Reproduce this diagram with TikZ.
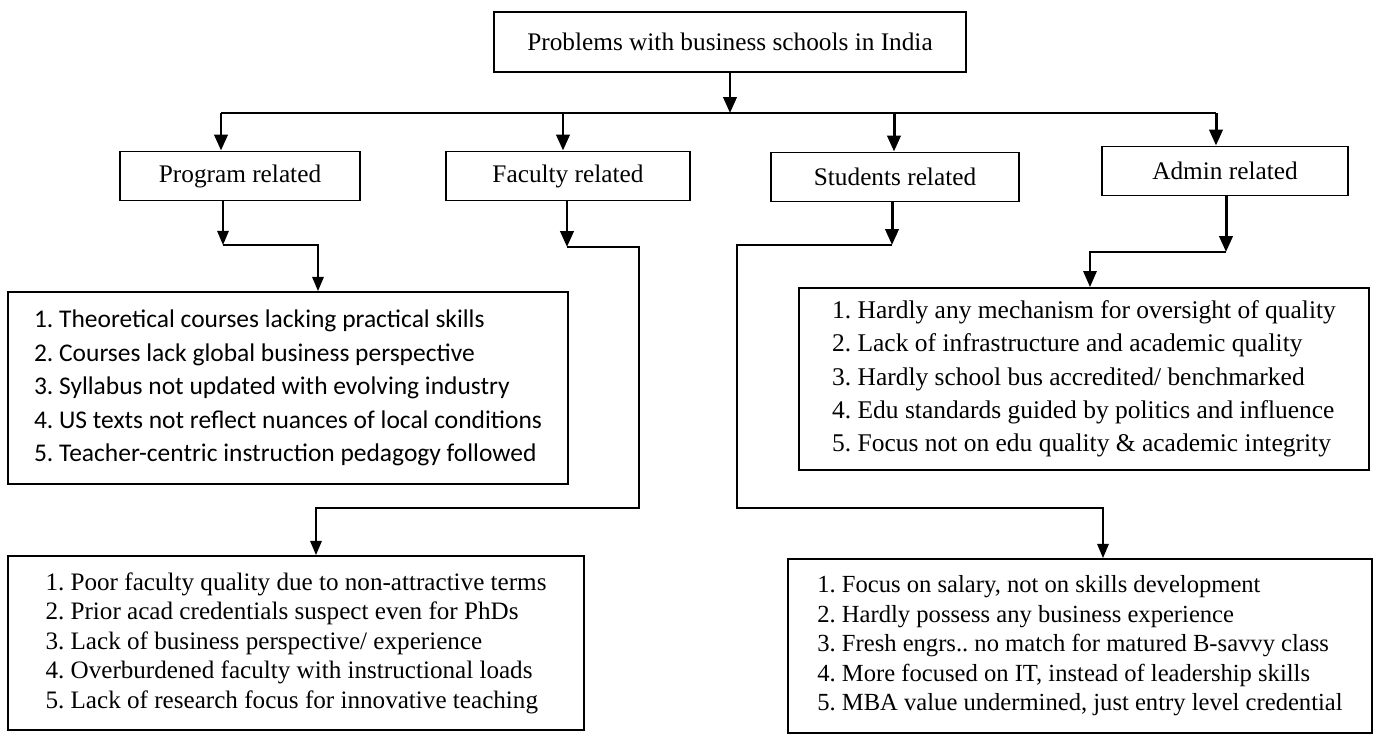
\documentclass[tikz,border=0pt]{standalone}
\usepackage{fontspec}
\setmainfont{Liberation Serif}
\newfontfamily\calibfont{Carlito}
\usepackage{tikz}
\usetikzlibrary{arrows.meta, positioning, calc}
\frenchspacing

\begin{document}
\begin{tikzpicture}[
    x=0.02cm, y=-0.02cm,
    topbox/.style={rectangle, draw, line width=1.1pt, minimum height=1.2cm, font=\fontsize{14.4}{17}\selectfont},
    catbox/.style={rectangle, draw, line width=1.1pt, minimum height=0.98cm, font=\fontsize{14.4}{17}\selectfont},
    listbox/.style={rectangle, draw, line width=1.1pt, align=left, font=\fontsize{14.5}{19}\selectfont},
    arrow/.style={-{Triangle[length=9pt,width=7.5pt]}, line width=1.7pt},
    thinarrow/.style={-{Triangle[length=8pt,width=6.5pt]}, line width=0.9pt}
]
    \useasboundingbox (0,0) rectangle (1377,736);

    \node[topbox, minimum width=9.44cm] (root) at (730,42) {Problems with business schools in India};

    \node[catbox, minimum width=4.8cm] (prog) at (240,176) {Program related};
    \node[catbox, minimum width=4.88cm] (fac) at (568,176) {Faculty related};
    \node[catbox, minimum width=4.96cm] (stu) at (895,177) {Students related};
    \node[catbox, minimum width=4.92cm] (adm) at (1225,171) {Admin related};

    \node[listbox, minimum width=11.2cm, minimum height=3.84cm, font=\calibfont\fontsize{14.5}{19}\selectfont] (plist) at (288,388) {%
        1. Theoretical courses lacking practical skills\\
        2. Courses lack global business perspective\\
        3. Syllabus not updated with evolving industry\\
        4. US texts not reflect nuances of local conditions\\
        5. Teacher-centric instruction pedagogy followed};
    \node[listbox, minimum width=11.4cm, minimum height=3.64cm] (alist) at (1084,379) {%
        1. Hardly any mechanism for oversight of quality\\
        2. Lack of infrastructure and academic quality\\
        3. Hardly school bus accredited/ benchmarked\\
        4. Edu standards guided by politics and influence\\
        5. Focus not on edu quality \& academic integrity};
    \node[listbox, minimum width=11.54cm, minimum height=3.48cm, font=\fontsize{14.3}{16.8}\selectfont] (flist) at (296,643) {%
        1. Poor faculty quality due to non-attractive terms\\
        2. Prior acad credentials suspect even for PhDs\\
        3. Lack of business perspective/ experience\\
        4. Overburdened faculty with instructional loads\\
        5. Lack of research focus for innovative teaching};
    \node[listbox, minimum width=11.68cm, minimum height=3.48cm, font=\fontsize{14}{16.8}\selectfont] (slist) at (1080,646) {%
        1. Focus on salary, not on skills development\\
        2. Hardly possess any business experience\\
        3. Fresh engrs.. no match for matured B-savvy class\\
        4. More focused on IT, instead of leadership skills\\
        5. MBA value undermined, just entry level credential};

    % root to the four groups
    \coordinate (hub) at (730,113);
    \coordinate (hl) at (221,113);
    \coordinate (hr) at (1216,113);
    \draw[arrow] (root) -- (hub);
    \draw[line width=1.4pt] (hl) -- (hr);
    \foreach \n/\x in {prog/221, fac/563, stu/894, adm/1216}
        \draw[arrow] (\x,113) -- (\n.north -| \x,0);

    % groups to their lists
    \coordinate (pbend) at (223,245);
    \coordinate (fbend) at (567,247);
    \coordinate (fturn) at (639,508);
    \coordinate (sbend) at (892,245);
    \coordinate (sturn) at (737,508);
    \coordinate (abend) at (1226,252);

    \draw[thinarrow] (prog.south -| pbend) -- (pbend);
    \draw[thinarrow] (pbend) -| (plist.north -| 318,0);

    \draw[arrow] (fac.south -| fbend) -- (fbend);
    \draw[thinarrow] (fbend) -| (fturn) -| (flist.north -| 316,0);

    \draw[arrow] (stu.south -| sbend) -- (sbend);
    \draw[thinarrow] (sbend) -| (sturn) -| (slist.north -| 1103,0);

    \draw[arrow] (adm.south -| abend) -- (abend);
    \draw[arrow, line width=1.2pt] (abend) -| (alist.north -| 1090,0);
\end{tikzpicture}
\end{document}
